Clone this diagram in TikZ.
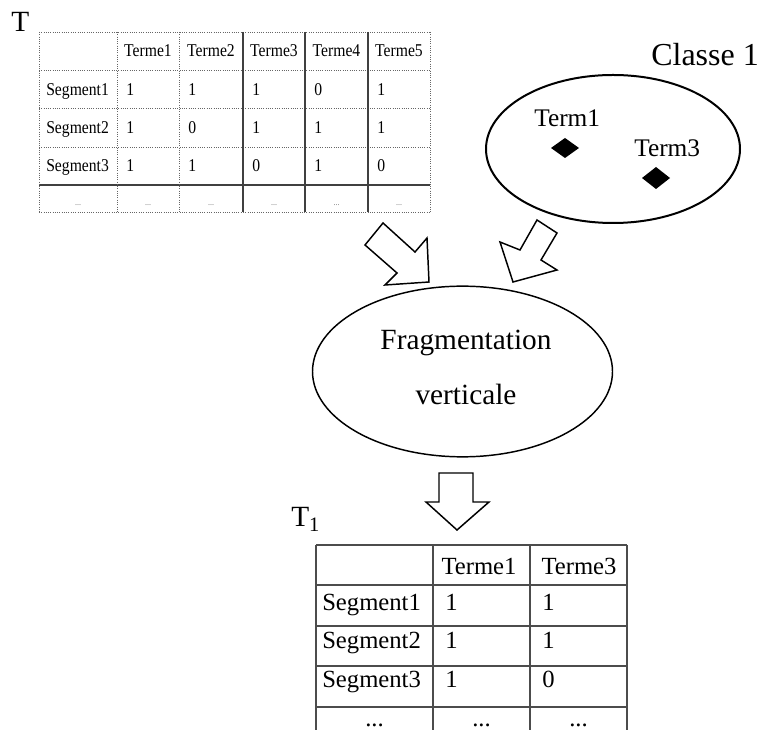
\documentclass[tikz,border=0pt]{standalone}
\usepackage{fontspec}
\setmainfont{Liberation Serif}
\newfontfamily\condserif[FakeStretch=0.87]{Liberation Serif}
\usetikzlibrary{shapes.geometric}

\tikzset{
  txt/.style={inner sep=0pt, anchor=base west},
  ctxt/.style={inner sep=0pt, anchor=base},
  smallfont/.style={font=\condserif\fontsize{13.5}{15}\selectfont},
  cellfont/.style={font=\fontsize{18.5}{20}\selectfont},
  dotline/.style={draw=black!60, line width=0.7pt, densely dotted},
  solline/.style={draw=black!75, line width=0.8pt},
  gridline/.style={draw=black!70, line width=1.1pt},
  blockarrow/.style={draw=black, fill=white, line width=1.1pt, line join=miter},
  oval/.style={draw=black, ellipse, inner sep=0pt},
  marker/.style={fill=black, draw=none},
}

\begin{document}
\begin{tikzpicture}[x=0.75pt, y=-0.75pt]
\useasboundingbox (0,0) rectangle (764,730);

% ---------- table T ----------
\node[txt, font=\fontsize{22}{24}\selectfont] (tlab) at (11,32) {T};

% grid of T: dotted rules, some solid
\foreach \y in {32,70,108,147}
  \draw[dotline] (39,\y) -- (430,\y);
\draw[solline] (39,185) -- (430,185);
\draw[dotline] (39,212) -- (430,212);
\foreach \x in {39,117,179,430}
  \draw[dotline] (\x,32) -- (\x,212);
\foreach \x in {243,305,368}
  \draw[solline] (\x,32) -- (\x,212);

% header row
\foreach \t/\cx [count=\i] in {Terme1/148,Terme2/211,Terme3/274,Terme4/336.5,Terme5/399}
  \node[ctxt, smallfont] (th\i) at (\cx,57) {\t};

% rows of T
\foreach \lab/\b/\va/\vb/\vc/\vd/\ve [count=\r] in
  {Segment1/96/1/1/1/0/1, Segment2/134/1/0/1/1/1, Segment3/172/1/1/0/1/0} {
  \node[txt, smallfont] (tr\r) at (46,\b) {\lab};
  \node[txt, smallfont] (tv\r a) at (126,\b) {\va};
  \node[txt, smallfont] (tv\r b) at (188,\b) {\vb};
  \node[txt, smallfont] (tv\r c) at (252,\b) {\vc};
  \node[txt, smallfont] (tv\r d) at (314,\b) {\vd};
  \node[txt, smallfont] (tv\r e) at (377,\b) {\ve};
}
\foreach \cx [count=\i] in {78,148,211,274,336.5,399}
  \node[ctxt, font=\fontsize{6}{7}\selectfont, text=black!60] (tdots\i) at (\cx,206) {...};

% ---------- Classe 1 ----------
\node[txt, font=\fontsize{24}{26}\selectfont] (classlab) at (651,66) {Classe 1};
\node[oval, line width=1.5pt, minimum width=190.5pt, minimum height=111pt] (classe) at (613,149) {};
\node[txt, font=\fontsize{19}{21}\selectfont] (term1) at (534,127) {Term1};
\node[txt, font=\fontsize{19}{21}\selectfont] (term3) at (634,157) {Term3};
\fill[marker] (551,148) -- (565,138) -- (579,148) -- (565,158) -- cycle;
\fill[marker] (642,178) -- (656,167) -- (670,178) -- (656,189) -- cycle;

% ---------- block arrows into the fragmentation step ----------
\draw[blockarrow] (365,245) -- (383,223) -- (415,252) -- (427,238)
  -- (429,282) -- (385,285) -- (397,273) -- cycle;
\draw[blockarrow] (537,220) -- (557,233) -- (541,260) -- (557,270)
  -- (513,282) -- (500,242) -- (520,250) -- cycle;

% ---------- fragmentation ----------
\node[oval, line width=1.1pt, minimum width=225pt, minimum height=128pt] (frag) at (462.5,371.5) {};
\node[ctxt, font=\fontsize{22}{24}\selectfont] (fragA) at (466,350) {Fragmentation};
\node[ctxt, font=\fontsize{22}{24}\selectfont] (fragB) at (466,405) {verticale};

% block arrow down to T1
\draw[blockarrow] (439,473) -- (473,473) -- (473,502) -- (489,502)
  -- (457,530) -- (426,502) -- (439,502) -- cycle;

% ---------- table T1 ----------
\node[txt, font=\fontsize{22}{24}\selectfont] (t1lab) at (291,527) {T\textsubscript{1}};

\foreach \y in {545,585,626,666,707}
  \draw[gridline] (316,\y) -- (627,\y);
\foreach \x in {316,433,530,627}
  \draw[gridline] (\x,545) -- (\x,731);

\node[ctxt, cellfont] (h1) at (479,575) {Terme1};
\node[ctxt, cellfont] (h3) at (579,575) {Terme3};
\foreach \lab/\b/\va/\vb [count=\r] in
  {Segment1/610/1/1, Segment2/648/1/1, Segment3/687/1/0} {
  \node[txt, cellfont] (s\r) at (322,\b) {\lab};
  \node[txt, cellfont] (v\r a) at (445,\b) {\va};
  \node[txt, cellfont] (v\r b) at (542,\b) {\vb};
}
\foreach \cx [count=\i] in {374.5,481.5,578.5}
  \node[ctxt, cellfont] (bdots\i) at (\cx,726) {...};
\end{tikzpicture}
\end{document}
